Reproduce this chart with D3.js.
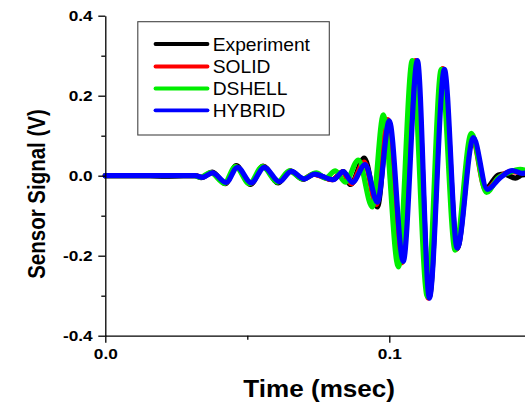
<!DOCTYPE html>
<html><head><meta charset="utf-8">
<script src="https://cdn.jsdelivr.net/npm/d3@7"></script>
<style>body{margin:0;background:#fff}svg{display:block}</style>
</head><body>
<svg id="c" width="525" height="404"></svg>
<script>
// ---- data (time in msec, signal in V) ----
const seriesNames = ["Experiment", "SOLID", "DSHELL", "HYBRID"];
const seriesColors = ["#000000", "#ff0000", "#00ee00", "#0000ff"];

const expT = [0,0.0158,0.0211,0.0275,0.0317,0.0338,0.0377,0.0423,0.0461,0.0511,0.0556,0.0609,0.0651,0.0697,0.0736,0.0799,0.0838,0.0863,0.0912,0.0958,0.0996,0.1046,0.1095,0.1141,0.1190,0.1239,0.1292,0.1342,0.1384,0.1405,0.1444,0.1468,0.1500];
const expV = [0,0,-0.002,0,0,-0.005,0.009,-0.020,0.025,-0.022,0.024,-0.018,0.012,-0.009,0.004,-0.010,0.010,-0.022,0.044,-0.078,0.138,-0.216,0.286,-0.302,0.264,-0.182,0.096,-0.030,0.002,0.004,-0.006,0.002,0.003];

const solidT = [0,0.0317,0.0338,0.0373,0.0423,0.0461,0.0511,0.0556,0.0609,0.0651,0.0697,0.0732,0.0799,0.0835,0.0866,0.0912,0.0954,0.0995,0.1042,0.1092,0.1137,0.1188,0.1236,0.1290,0.1340,0.1387,0.1426,0.1465,0.1500];
const solidV = [0,0,-0.004,0.007,-0.018,0.022,-0.019,0.022,-0.015,0.011,-0.008,0.004,-0.010,0.009,-0.020,0.034,-0.072,0.140,-0.218,0.288,-0.306,0.268,-0.184,0.098,-0.036,-0.004,0.010,0.008,0.006];

const dshellT = [0,0.0313,0.0335,0.0370,0.0419,0.0458,0.0507,0.0553,0.0606,0.0648,0.0694,0.0743,0.0775,0.0810,0.0845,0.0891,0.0940,0.0979,0.1032,0.1081,0.1134,0.1183,0.1232,0.1289,0.1342,0.1384,0.1415,0.1461,0.1500];
const dshellV = [0,0,-0.004,0.008,-0.019,0.023,-0.020,0.023,-0.016,0.012,-0.008,0.007,-0.006,0.012,-0.016,0.039,-0.078,0.152,-0.228,0.288,-0.302,0.266,-0.186,0.106,-0.042,-0.005,0.006,0.016,0.006];

const hybridT = [0,0.0317,0.0342,0.0377,0.0426,0.0465,0.0514,0.0560,0.0613,0.0655,0.0701,0.0736,0.0803,0.0838,0.0870,0.0915,0.0958,0.1000,0.1049,0.1099,0.1141,0.1194,0.1239,0.1296,0.1345,0.1391,0.1433,0.1468,0.1500];
const hybridV = [0,0,-0.004,0.007,-0.017,0.021,-0.018,0.021,-0.015,0.011,-0.008,0.004,-0.010,0.010,-0.017,0.028,-0.066,0.137,-0.214,0.288,-0.306,0.266,-0.181,0.095,-0.034,-0.005,0.013,0.006,0.008];

const xMajorTicks = [0, 0.1];
const xMinorTicks = [0.05, 0.15];
const xTickLabels = ["0.0", "0.1"];
const yMajorTicks = [-0.4, -0.2, 0, 0.2, 0.4];
const yMinorTicks = [-0.3, -0.1, 0.1, 0.3];
const yTickLabels = ["-0.4", "-0.2", "0.0", "0.2", "0.4"];
const xTitle = "Time (msec)";
const yTitle = "Sensor Signal (V)";

// ---- layout ----
const svg = d3.select("#c");
const x = d3.scaleLinear().domain([0, 0.15]).range([105.3, 531.3]);
const y = d3.scaleLinear().domain([-0.4, 0.4]).range([335.7, 15.7]);
const SX = 1.12; // horizontal stretch of text in reference

// lines
const allT = [expT, solidT, dshellT, hybridT];
const allV = [expV, solidV, dshellV, hybridV];
const line = d3.line().x(d => x(d[0])).y(d => y(d[1])).curve(d3.curveMonotoneX);
const gLines = svg.append("g");
allT.forEach((ts, i) => {
  const pts = ts.map((t, j) => [t, allV[i][j]]);
  gLines.append("path").datum(pts).attr("d", line)
    .attr("fill", "none").attr("stroke", seriesColors[i])
    .attr("stroke-width", 5.2).attr("stroke-linejoin", "round").attr("stroke-linecap", "round");
});

// axes
const font = "Arial, 'Liberation Sans', Helvetica, sans-serif";
const yAxis = svg.append("g").attr("transform", "translate(105.3,0)")
  .call(d3.axisLeft(y).tickValues(yMajorTicks).tickSize(7).tickSizeOuter(0)
    .tickFormat((d, i) => yTickLabels[i]));
const yMinor = svg.append("g").attr("transform", "translate(105.3,0)")
  .call(d3.axisLeft(y).tickValues(yMinorTicks).tickSize(4).tickSizeOuter(0).tickFormat(""));
yMinor.select(".domain").remove();
yAxis.selectAll("text").attr("x", null).attr("dy", null)
  .attr("transform", "translate(-12.6,4.9) scale(" + SX + ",1)")
  .style("font-family", font).style("font-weight", "bold").style("font-size", "15.4px").attr("fill", "#000");

const xAxis = svg.append("g").attr("transform", "translate(0,335.7)")
  .call(d3.axisBottom(x).tickValues(xMajorTicks).tickSize(7).tickSizeOuter(0)
    .tickFormat((d, i) => xTickLabels[i]));
const xMinor = svg.append("g").attr("transform", "translate(0,335.7)")
  .call(d3.axisBottom(x).tickValues(xMinorTicks).tickSize(4).tickSizeOuter(0).tickFormat(""));
xMinor.select(".domain").remove();
xAxis.selectAll("text").attr("y", null).attr("dy", null)
  .attr("transform", "translate(0,23.7) scale(" + SX + ",1)")
  .style("font-family", font).style("font-weight", "bold").style("font-size", "15.4px").attr("fill", "#000");

svg.selectAll(".domain, .tick line").attr("stroke", "#000").attr("stroke-width", 1.3);

// titles
svg.append("text").text(xTitle)
  .attr("transform", "translate(319.2,397.3) scale(1.11,1)")
  .attr("text-anchor", "middle")
  .style("font-family", font).style("font-weight", "bold").style("font-size", "23.5px");
svg.append("text").text(yTitle)
  .attr("transform", "translate(44.5,194) scale(1.15,1) rotate(-90)")
  .attr("text-anchor", "middle")
  .style("font-family", font).style("font-weight", "bold").style("font-size", "20.5px");

// legend
const lg = svg.append("g");
lg.append("rect").attr("x", 137.8).attr("y", 21.7).attr("width", 191.5).attr("height", 113.3)
  .attr("fill", "#fff").attr("stroke", "#444").attr("stroke-width", 1.1);
const legY = [44, 66.5, 88.5, 110.3];
seriesNames.forEach((n, i) => {
  lg.append("line").attr("x1", 155.5).attr("x2", 207.5).attr("y1", legY[i]).attr("y2", legY[i])
    .attr("stroke", seriesColors[i]).attr("stroke-width", 3.8).attr("stroke-linecap", "round");
  lg.append("text").text(n)
    .attr("transform", "translate(212.7," + (legY[i] + 6.6) + ") scale(1.1,1)")
    .style("font-family", font).style("font-size", "17.5px").attr("fill", "#000");
});
</script>
</body></html>
